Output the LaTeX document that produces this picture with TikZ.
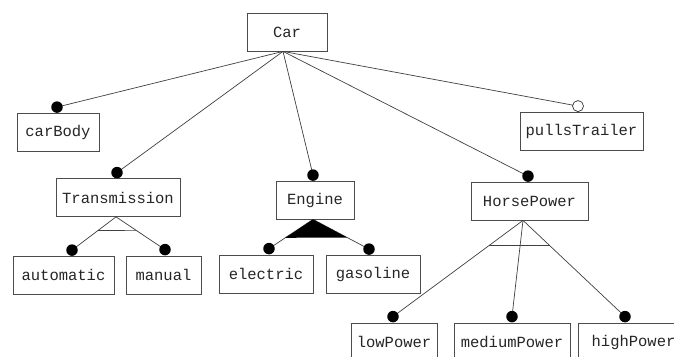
\documentclass[tikz,border=0pt]{standalone}
\usepackage{fontspec}
\newfontfamily\featmono{Liberation Mono}
\usetikzlibrary{calc}
\begin{document}
\begin{tikzpicture}[x=1pt,y=-1pt,
  feature/.style={draw=black!70,line width=0.8pt,fill=white,minimum height=38pt,
    inner sep=0pt,text=black!85,font=\featmono\fontsize{15.5}{18}\selectfont},
  link/.style={draw=black!75,line width=0.7pt},
  mand/.style={circle,fill=black,inner sep=0pt,minimum size=11.5pt},
  opt/.style={circle,draw=black!80,fill=white,line width=0.7pt,inner sep=0pt,minimum size=11pt}]
\clip (0,0) rectangle (674,356);
\fill[white] (0,0) rectangle (674,356);

% features
\node[feature,minimum width=80pt]  (car)   at (287,32)    {Car};
\node[feature,minimum width=82pt]  (body)  at (58,132)    {carBody};
\node[feature,minimum width=123pt] (trail) at (581.5,131) {pullsTrailer};
\node[feature,minimum width=124pt] (trans) at (118,197.5) {Transmission};
\node[feature,minimum width=78pt]  (eng)   at (315,200)   {Engine};
\node[feature,minimum width=117pt] (hp)    at (529.5,201) {HorsePower};
\node[feature,minimum width=101pt] (auto)  at (63.5,275)  {automatic};
\node[feature,minimum width=75pt]  (man)   at (163.5,275) {manual};
\node[feature,minimum width=94pt]  (elec)  at (266,274)   {electric};
\node[feature,minimum width=94pt]  (gas)   at (373,274)   {gasoline};
\node[feature,minimum width=86pt]  (low)   at (394,342)   {lowPower};
\node[feature,minimum width=116pt] (med)   at (512,342)   {mediumPower};
\node[feature,minimum width=111pt] (high)  at (633.5,342) {highPower};

% edge origins below each parent
\coordinate (car-o)   at ([xshift=-4pt]car.south);
\coordinate (trans-o) at ([xshift=-2pt]trans.south);
\coordinate (eng-o)   at ([xshift=-2pt]eng.south);
\coordinate (hp-o)    at ([xshift=-6.5pt]hp.south);

% end points of the edges on top of each child
\coordinate (body-d)  at ([xshift=-1pt,yshift=5.5pt]body.north);
\coordinate (trail-d) at ([xshift=-3.5pt,yshift=5.5pt]trail.north);
\coordinate (trans-d) at ([xshift=-1pt,yshift=5.5pt]trans.north);
\coordinate (eng-d)   at ([xshift=-2pt,yshift=5.5pt]eng.north);
\coordinate (hp-d)    at ([xshift=-1.5pt,yshift=5.5pt]hp.north);
\coordinate (auto-d)  at ([xshift=8.5pt,yshift=5.5pt]auto.north);
\coordinate (man-d)   at ([xshift=1.5pt,yshift=6pt]man.north);
\coordinate (elec-d)  at ([xshift=3pt,yshift=6pt]elec.north);
\coordinate (gas-d)   at ([xshift=-4pt,yshift=5.5pt]gas.north);
\coordinate (low-d)   at ([xshift=-1pt,yshift=6pt]low.north);
\coordinate (med-d)   at ([xshift=0pt,yshift=6pt]med.north);
\coordinate (high-d)  at ([xshift=-8.5pt,yshift=6pt]high.north);

% edges from Car
\foreach \c in {body,trail,trans,eng,hp}
  \draw[link] (car-o) -- (\c-d);
% grouped children
\draw[link] (auto-d) -- (trans-o) -- (man-d);
\draw[link] (elec-d) -- (eng-o) -- (gas-d);
\draw[link] (low-d) -- (hp-o) -- (high-d);
\draw[link] (hp-o) -- (med-d);

% alternative group (open arc)
\draw[link] ($(trans-o)!0.41!(auto-d)$) -- ($(trans-o)!0.42!(man-d)$);
% or group (filled arc)
\fill[black] (eng-o) -- ($(eng-o)!0.63!(elec-d)$) -- ($(eng-o)!0.61!(gas-d)$) -- cycle;
% alternative group (open arc)
\draw[link] ($(hp-o)!0.26!(low-d)$) -- ($(hp-o)!0.26!(high-d)$);

% mandatory / optional markers
\foreach \c in {body,trans,eng,hp,auto,man,elec,gas,low,med,high}
  \node[mand] (\c-m) at (\c-d) {};
\node[opt] (trail-m) at (trail-d) {};
\end{tikzpicture}
\end{document}
